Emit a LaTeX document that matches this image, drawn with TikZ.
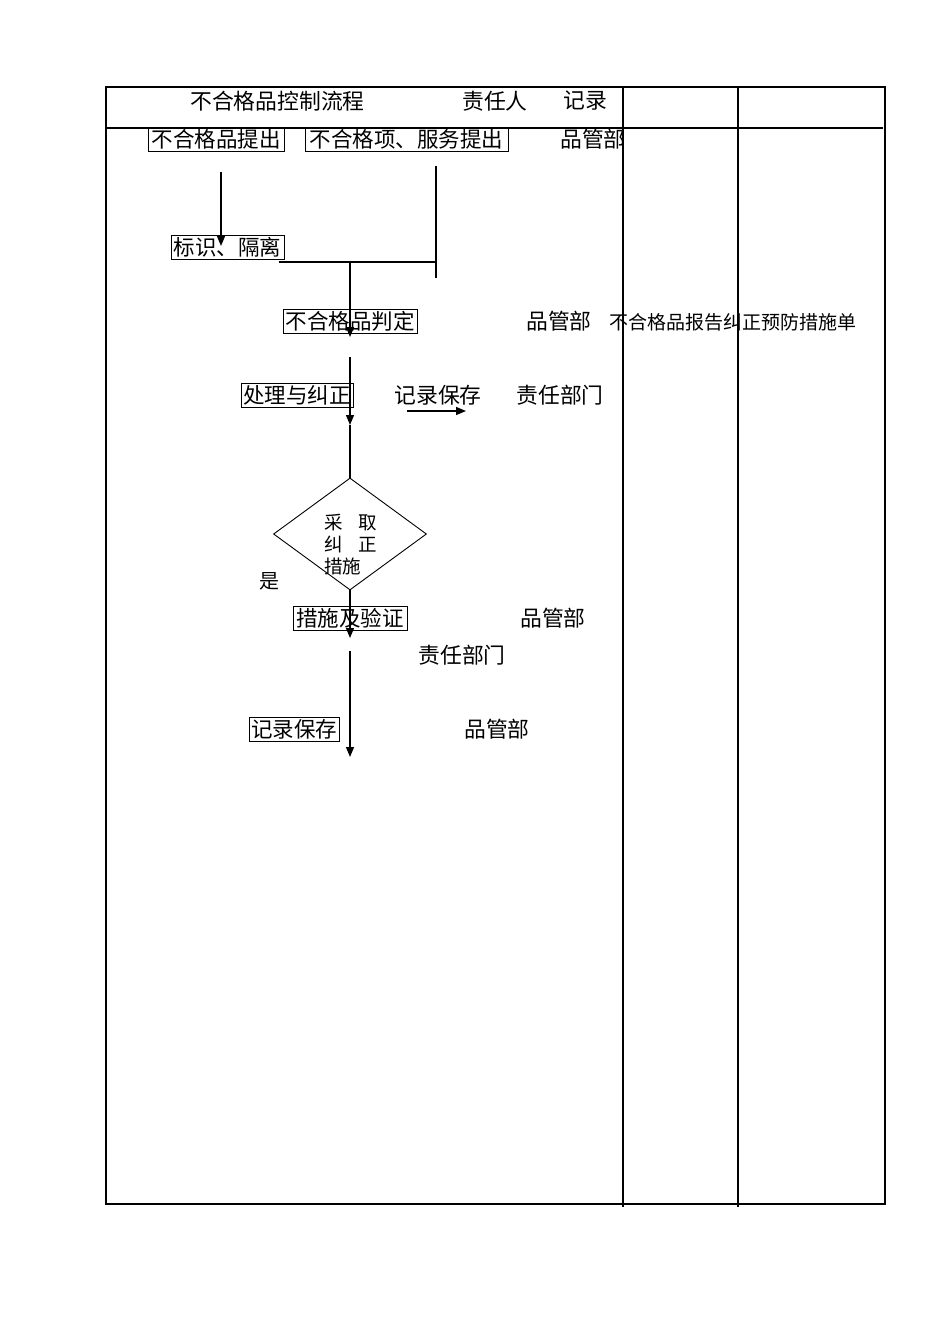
\documentclass[tikz,border=0pt]{standalone}
\usepackage{fontspec}
\setmainfont{Noto Sans CJK SC}
\usetikzlibrary{arrows.meta,shapes.geometric}
\begin{document}
\begin{tikzpicture}[x=1pt,y=-1pt,
  txt/.style={inner sep=0pt,font=\fontsize{21.8}{21.8}\selectfont},
  smalltxt/.style={inner sep=0pt,font=\fontsize{19}{19}\selectfont},
  boxed/.style={draw,line width=0.8pt,inner sep=0pt,font=\fontsize{21.5}{21.5}\selectfont,minimum height=24pt},
  flow/.style={line width=1.3pt},
  arr/.style={line width=1.3pt,-{Triangle[width=8pt,length=10pt]}},
  frame/.style={line width=2.2pt},
  rule/.style={line width=1.3pt}]
\useasboundingbox (0,0) rectangle (950,1344);
% table
\coordinate (tl) at (106,87);
\coordinate (br) at (885,1204);
\draw[frame] (tl) rectangle (br);
\coordinate (h1) at (106,128);
\coordinate (h2) at (883,128);
\draw[rule] (h1) -- (h2);
\coordinate (v1t) at (623,87);
\coordinate (v1b) at (623,1207);
\coordinate (v2t) at (738,87);
\coordinate (v2b) at (738,1207);
\draw[rule] (v1t) -- (v1b);
\draw[rule] (v2t) -- (v2b);
% header
\node[txt] (title) at (277.5,101) {不合格品控制流程};
\node[txt] (resp) at (495,101) {责任人};
\node[txt] (rec) at (585,101) {记录};
% row 1
\node[boxed,minimum width=136pt] (b1) at (216,139) {不合格品提出};
\node[boxed,minimum width=203pt] (b2) at (406.5,139) {不合格项、服务提出};
\node[txt] (r1) at (593,139) {品管部};
% identify
\node[boxed,minimum width=113pt] (b3) at (227.5,247) {标识、隔离};
\coordinate (a1s) at (221,172);
\coordinate (a1e) at (221,246);
\draw[arr] (a1s) -- (a1e);
\coordinate (c1) at (436,166);
\coordinate (c2) at (436,278);
\draw[flow] (c1) -- (c2);
\coordinate (c3) at (279,262);
\coordinate (c4) at (436,262);
\draw[flow] (c3) -- (c4);
\coordinate (c5) at (350,262);
% judge
\node[boxed,minimum width=134pt] (b4) at (350,321) {不合格品判定};
\coordinate (c6) at (350,337);
\draw[arr] (c5) -- (c6);
\node[txt] (r2) at (559,321) {品管部};
\node[smalltxt,anchor=west] (rec2) at (609,322) {不合格品报告纠正预防措施单};
% handle
\node[boxed,minimum width=112pt] (b5) at (297,395) {处理与纠正};
\coordinate (c7) at (350,357);
\coordinate (c8) at (350,425);
\draw[arr] (c7) -- (c8);
\node[txt] (r3) at (438,395) {记录保存};
\node[txt] (r4) at (560,395) {责任部门};
\coordinate (c9) at (407,411);
\coordinate (c10) at (466,411);
\draw[arr] (c9) -- (c10);
% decision
\node[draw,line width=0.9pt,diamond,minimum width=153pt,minimum height=112pt,inner sep=0pt] (dia) at (350,534) {};
\draw[flow] (c8) -- (dia.north);
\node[anchor=north west,align=left,inner sep=0pt,font=\fontsize{18.5}{22}\selectfont] (diatxt) at (324,514) {采\hspace{16pt}取\\纠\hspace{16pt}正\\措施};
\node[txt,font=\fontsize{20}{20}\selectfont] (yes) at (269,581) {是};
% measures
\node[boxed,minimum width=114pt] (b6) at (350,618) {措施及验证};
\coordinate (c11) at (350,638);
\draw[arr] (dia.south) -- (c11);
\node[txt] (r5) at (553,618) {品管部};
\node[txt] (r6) at (462,655) {责任部门};
% record
\node[boxed,minimum width=90pt] (b7) at (294,729.5) {记录保存};
\coordinate (c12) at (350,651);
\coordinate (c13) at (350,757);
\draw[arr] (c12) -- (c13);
\node[txt] (r7) at (497,729) {品管部};
\end{tikzpicture}
\end{document}
